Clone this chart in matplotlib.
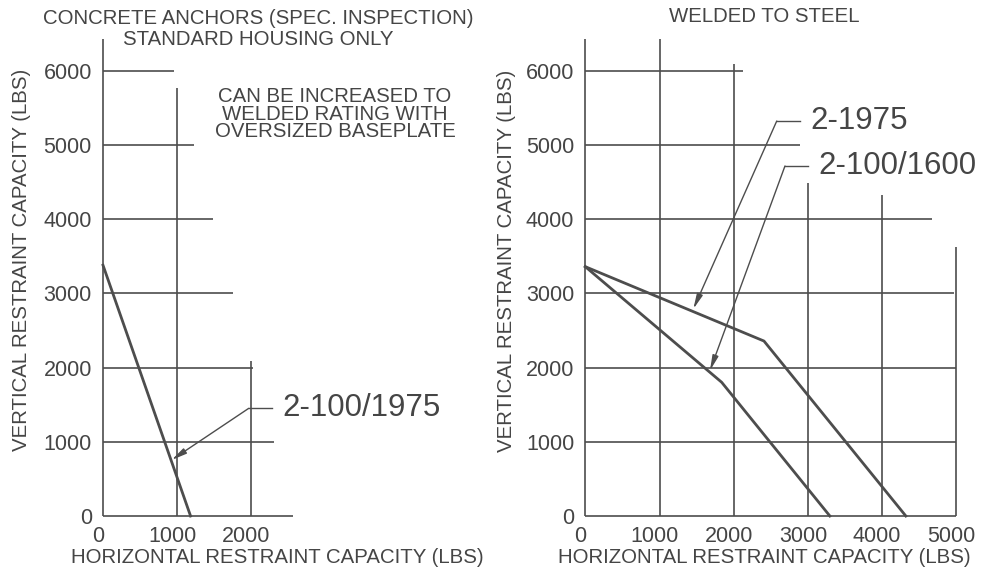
import matplotlib
matplotlib.use("Agg")
import matplotlib.pyplot as plt
from matplotlib.transforms import ScaledTranslation

plt.rcParams['font.family'] = ['Liberation Sans', 'DejaVu Sans']

# ---- data ----
left_h = [0, 1180]          # 2-100/1975 (concrete anchors)
left_v = [3380, 0]
w1975_h = [0, 2408, 4320]   # 2-1975 welded
w1975_v = [3360, 2358, 0]
w1600_h = [0, 1838, 3296]   # 2-100/1600 welded
w1600_v = [3360, 1802, 0]

left_xticks = [0, 1000, 2000]
right_xticks = [0, 1000, 2000, 3000, 4000, 5000]
yticks = [0, 1000, 2000, 3000, 4000, 5000, 6000]

# grid segment extents (staircase look of the drawing)
left_hgrid_ext = [2563, 2300, 2023, 1752, 1477, 1225, 955]     # for y = 0..6000
left_vgrid_ext = [6430, 5770, 2090]                            # for x = 0,1000,2000
right_hgrid_ext = [5000, 5000, 5000, 4970, 4668, 2893, 2130]
right_vgrid_ext = [6430, 6430, 6090, 4490, 4320, 3620]

W, H = 998, 568
fig = plt.figure(figsize=(W / 100, H / 100), dpi=100)
C = '#4d4d4d'
TC = '#454545'
PX = 74.2 / 1000.0  # pixels per data unit


def make_ax(x0px, y0px, xmax, ymax):
    w = xmax * PX
    h = ymax * PX
    ax = fig.add_axes([x0px / W, (H - y0px) / H, w / W, h / H])
    ax.set_xlim(0, xmax)
    ax.set_ylim(0, ymax)
    for s in ax.spines.values():
        s.set_visible(False)
    ax.patch.set_alpha(0)
    return ax


def style_ticks(ax, xt):
    ax.set_xticks(xt)
    ax.set_xticklabels([str(v) for v in xt])
    ax.set_yticks(yticks)
    ax.set_yticklabels([str(v) for v in yticks])
    ax.tick_params(length=0, labelsize=15.5, labelcolor=TC)
    ax.tick_params(axis='y', pad=8)
    ax.tick_params(axis='x', pad=7)
    off = ScaledTranslation(-5 / 100, 0, fig.dpi_scale_trans)
    for lab in ax.get_xticklabels():
        lab.set_transform(lab.get_transform() + off)


# ---------------- left panel ----------------
axL = make_ax(103, 516, 2600, 6450)
for yv, ext in zip(yticks, left_hgrid_ext):
    axL.plot([0, ext], [yv, yv], color=C, lw=1.2, clip_on=False, solid_capstyle='butt')
for xv, ext in zip(left_xticks, left_vgrid_ext):
    axL.plot([xv, xv], [0, ext], color=C, lw=1.2, clip_on=False, solid_capstyle='butt')
axL.plot(left_h, left_v, color=C, lw=2.0, clip_on=False)
style_ticks(axL, left_xticks)

# leader for 2-100/1975
axL.plot([1964, 2280], [1451, 1451], color=C, lw=1.0, clip_on=False)
axL.annotate('', xy=(925, 755), xytext=(1964, 1451),
             arrowprops=dict(arrowstyle='-|>,head_length=0.9,head_width=0.18',
                             color=C, lw=1.0, shrinkA=0, shrinkB=0),
             annotation_clip=False)
axL.text(2415, 1451, '2-100/1975', fontsize=22.5, color=TC, va='center', ha='left',
         clip_on=False)

# ---------------- right panel ----------------
axR = make_ax(585.3, 516, 5000, 6450)
for yv, ext in zip(yticks, right_hgrid_ext):
    axR.plot([0, ext], [yv, yv], color=C, lw=1.2, clip_on=False, solid_capstyle='butt')
for xv, ext in zip(right_xticks, right_vgrid_ext):
    axR.plot([xv, xv], [0, ext], color=C, lw=1.2, clip_on=False, solid_capstyle='butt')
axR.plot(w1975_h, w1975_v, color=C, lw=2.0, clip_on=False)
axR.plot(w1600_h, w1600_v, color=C, lw=2.0, clip_on=False)
style_ticks(axR, right_xticks)

# leaders
axR.plot([2580, 2893], [5323, 5323], color=C, lw=1.0, clip_on=False)
axR.annotate('', xy=(1456, 2790), xytext=(2580, 5323),
             arrowprops=dict(arrowstyle='-|>,head_length=0.9,head_width=0.18',
                             color=C, lw=1.0, shrinkA=0, shrinkB=0),
             annotation_clip=False)
axR.text(3036, 5323, '2-1975', fontsize=22.5, color=TC, va='center', ha='left',
         clip_on=False)

axR.plot([2691, 3005], [4717, 4717], color=C, lw=1.0, clip_on=False)
axR.annotate('', xy=(1680, 1960), xytext=(2691, 4717),
             arrowprops=dict(arrowstyle='-|>,head_length=0.9,head_width=0.18',
                             color=C, lw=1.0, shrinkA=0, shrinkB=0),
             annotation_clip=False)
axR.text(3140, 4717, '2-100/1600', fontsize=22.5, color=TC, va='center', ha='left',
         clip_on=False)

# ---------------- texts ----------------
def ftext(xpx, ypx, s, **kw):
    fig.text(xpx / W, 1 - ypx / H, s, color=TC, **kw)

ftext(258, 29, 'CONCRETE ANCHORS (SPEC. INSPECTION)\nSTANDARD HOUSING ONLY',
      fontsize=14.7, ha='center', va='center', linespacing=1.1)
ftext(335, 114, 'CAN BE INCREASED TO\nWELDED RATING WITH\nOVERSIZED BASEPLATE',
      fontsize=14.7, ha='center', va='center', linespacing=0.92)
ftext(764, 17, 'WELDED TO STEEL', fontsize=14.7, ha='center', va='center')

ftext(277, 567, 'HORIZONTAL RESTRAINT CAPACITY (LBS)', fontsize=14.7,
      ha='center', va='bottom')
ftext(764, 567, 'HORIZONTAL RESTRAINT CAPACITY (LBS)', fontsize=14.7,
      ha='center', va='bottom')
ftext(22, 260, 'VERTICAL RESTRAINT CAPACITY (LBS)', fontsize=14.7,
      ha='center', va='center', rotation=90)
ftext(507, 261, 'VERTICAL RESTRAINT CAPACITY (LBS)', fontsize=14.7,
      ha='center', va='center', rotation=90)

fig.savefig('out.png', dpi=100)
